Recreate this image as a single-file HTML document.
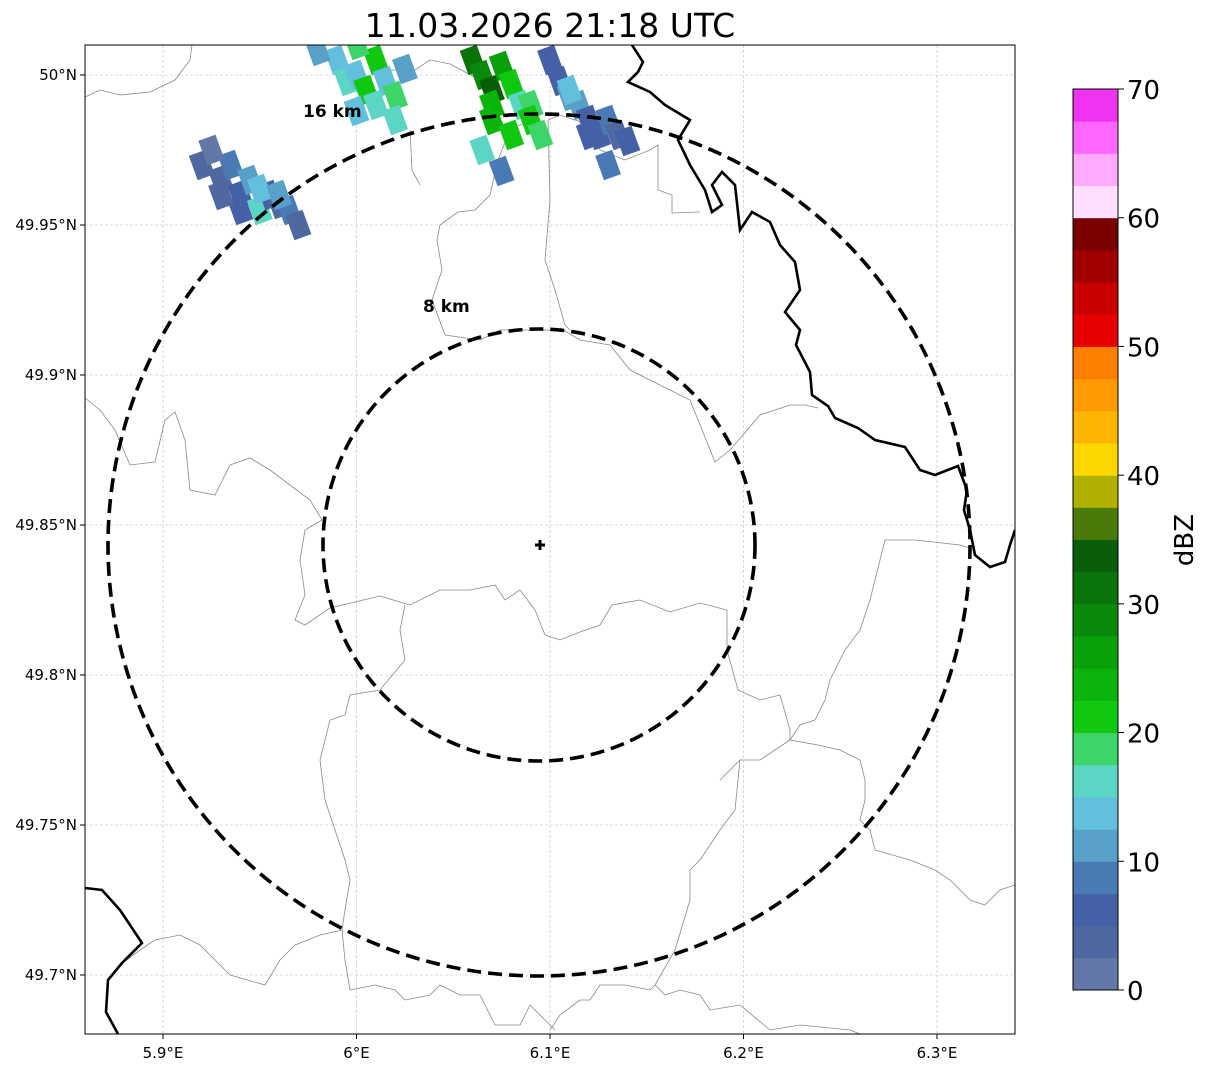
<!DOCTYPE html>
<html><head><meta charset="utf-8"><style>
html,body{margin:0;padding:0;background:#fff;width:1207px;height:1069px;overflow:hidden}
text{font-family:"DejaVu Sans","Liberation Sans",sans-serif}
</style></head><body>
<svg id="fig" width="1207" height="1069" viewBox="0 0 1207 1069" xmlns="http://www.w3.org/2000/svg">
<text x="550" y="37" font-size="33" text-anchor="middle">11.03.2026 21:18 UTC</text>
<defs><clipPath id="mapclip"><rect x="85" y="45" width="930" height="989"/></clipPath></defs>
<g id="map" clip-path="url(#mapclip)">
<g id="grid"></g>
<g fill="none" stroke="#888" stroke-width="0.8">
<path d="M85,97 L100,90 L120,95 L150,92 L175,80 L190,60 L192,45"/>
<path d="M85,398 L100,410 L115,430 L130,465 L155,462 L165,420 L175,412 L185,440 L190,490 L215,495 L230,465 L250,458 L270,470 L290,485 L310,500 L322,520 L305,530 L300,560 L305,595 L295,620 L305,625 L330,608 L380,596 L410,605 L440,590 L470,590 L495,585 L505,600 L520,590 L535,610 L545,635 L560,640 L580,632 L600,625 L612,605 L640,600 L670,612 L700,603 L727,610 L727,650 L738,690 L760,700 L780,695 L790,730 L790,740 L818,745 L840,750 L860,760 L865,780 L865,800 L860,820 L870,830 L875,850 L910,860 L935,870 L950,880 L970,900 L985,905 L1000,890 L1015,885"/>
<path d="M405,605 L400,630 L405,660 L380,690 L350,695 L345,715 L330,720 L320,760 L325,800 L335,830 L345,860 L350,880 L345,910 L342,930 L320,935 L295,945 L280,960 L265,985 L230,975 L215,960 L200,945 L180,935 L155,940 L140,950 L120,965"/>
<path d="M342,930 L345,960 L350,990 L375,985 L395,990 L405,1000 L430,995 L440,985 L450,990 L460,995 L480,995 L495,1025 L520,1025 L530,1005 L545,1020 L555,1030"/>
<path d="M720,780 L740,760 L760,760 L790,740 M740,760 L735,810 L720,830 L700,860 L690,870 L690,900 L675,950 L655,985 L650,990 L625,985 L600,985 L590,1000 L580,1000 L560,1015 L550,1030"/>
<path d="M655,985 L665,995 L680,990 L700,995 L710,1010 L740,1005 L770,1030 L800,1025 L850,1030 L860,1034"/>
<path d="M548,120 L550,200 L545,260 L555,290 L565,325 L570,330"/>
<path d="M530,120 L510,130 L498,160 L490,195 L475,210 L458,212 L440,225 L437,240 L442,270 L432,300 L445,335 L480,340 L500,330 L530,330 L550,330 M560,328 L580,340 L610,345 L630,370 L660,385 L690,400 L715,462 L730,450 L760,415 L790,405 L805,405 L818,408"/>
<path d="M410,130 L412,170 L420,185"/>
<path d="M480,80 L450,64 L430,60 L415,70 L390,70 M548,120 L560,115 L590,125 L600,150 L625,160 L650,150 L658,145 L658,190 L672,195 L672,213 L700,212"/>
<path d="M915,540 L885,540 L880,560 L870,600 L860,630 L845,650 L830,680 L825,700 L815,720 L800,725 L790,740"/>
<path d="M915,540 L960,545 L970,548"/>
</g>
<g fill="none" stroke="#000" stroke-width="2.6">
<path d="M632,45 L643,62 L638,72 L628,82 L650,92 L665,105 L690,120 L678,140 L690,165 L705,190 L712,212 L722,205 L712,185 L722,172 L735,185 L740,230 L752,212 L770,222 L780,245 L795,262 L800,290 L785,312 L800,330 L796,345 L810,372 L812,395 L828,406 L835,418 L858,428 L875,440 L905,447 L920,470 L935,475 L958,466 L967,490 L964,510 L970,530 L975,555 L990,567 L1005,562 L1010,545 L1015,530"/>
<path d="M85,888 L102,890 L120,910 L142,943 L122,963 L108,980 L106,1012 L118,1034"/>
</g>
<g id="echoes"></g>
<circle cx="539" cy="545" r="216" fill="none" stroke="#000" stroke-width="3.6" stroke-dasharray="14,7"/>
<circle cx="539" cy="545" r="431" fill="none" stroke="#000" stroke-width="3.6" stroke-dasharray="14,7"/>
<text x="423" y="312" font-size="17" font-weight="bold">8 km</text>
<text x="303" y="117" font-size="17" font-weight="bold">16 km</text>
<path d="M535,545 H545 M540,540 V550" stroke="#000" stroke-width="3"/>
</g>
<rect x="85" y="45" width="930" height="989" fill="none" stroke="#000" stroke-width="1"/>
<g id="axes"></g>
<g id="cbar"></g>
<text x="1193" y="540" font-size="26" text-anchor="middle" transform="rotate(-90 1193 540)">dBZ</text>
</svg>
<script>
const NS="http://www.w3.org/2000/svg";
const lonTicks=[5.9,6.0,6.1,6.2,6.3];
const lonLabels=["5.9°E","6°E","6.1°E","6.2°E","6.3°E"];
const latTicks=[50.0,49.95,49.9,49.85,49.8,49.75,49.7];
const latLabels=["50°N","49.95°N","49.9°N","49.85°N","49.8°N","49.75°N","49.7°N"];
const cbarColors=["#6478a8","#5068a0","#4460a6","#4a7ab4","#58a0c8","#62c0dd","#5cd6c4","#3dd46a","#10c810","#0ab40a","#0aa00a","#0a8a0a","#0a730a","#0a5e0a","#4a7a0a","#b0b000","#ffd700","#ffb400","#ff9a00","#ff7f00","#e60000","#c80000","#a00000","#7a0000","#ffdfff","#ffaaff","#ff66ff","#f033f0"];
const cbarTicks=[0,10,20,30,40,50,60,70];
const cbarStep=2.5;
// echo cells: [lon, lat, dBZ]
const echoLon=[5.92,5.925,5.93,5.935,5.94,5.945,5.95,5.955,5.96,5.965,5.97,5.94,5.93,5.925,5.95,5.96,5.99,5.995,6.0,6.005,6.01,6.015,6.02,6.025,6.0,6.01,6.02,6.06,6.065,6.07,6.075,6.08,6.085,6.09,6.07,6.08,6.09,6.095,6.065,6.075,6.1,6.105,6.11,6.115,6.12,6.125,6.13,6.135,6.11,6.12,6.13,6.14,6.07,5.98,6.0];
const echoLat=[49.97,49.975,49.965,49.97,49.96,49.965,49.955,49.96,49.957,49.955,49.95,49.955,49.96,49.975,49.962,49.96,50.005,49.998,50.0,49.995,50.005,49.998,49.993,50.002,49.988,49.99,49.985,50.005,50.0,49.995,50.003,49.997,49.99,49.99,49.985,49.98,49.985,49.98,49.975,49.968,50.005,49.998,49.993,49.99,49.985,49.98,49.985,49.98,49.995,49.98,49.97,49.978,49.99,50.008,50.01];
const echoVal=[3,5,4,8,6,12,15,7,3,8,3,5,4,2,13,10,13,15,14,22,20,13,18,12,14,16,17,30,28,33,25,22,17,19,24,22,20,18,15,8,6,5,12,10,7,5,8,4,14,7,9,6,23,12,18];
const X=lon=>163+(lon-5.9)*1935;
const Y=lat=>75+(50-lat)*3000;
const g=document.getElementById('grid'), ax=document.getElementById('axes');
lonTicks.forEach((v,i)=>{
 const l=document.createElementNS(NS,'line');
 
 
 l.setAttribute('x1',X(v));l.setAttribute('x2',X(v));l.setAttribute('y1',45);l.setAttribute('y2',1034);
 l.setAttribute('stroke','#bbb');l.setAttribute('stroke-width','0.6');l.setAttribute('stroke-dasharray','3,2');g.appendChild(l);
 const tk=document.createElementNS(NS,'line');
 
 
 tk.setAttribute('x1',X(v));tk.setAttribute('x2',X(v));tk.setAttribute('y1',1034);tk.setAttribute('y2',1039);tk.setAttribute('stroke','#000');ax.appendChild(tk);
 const t=document.createElementNS(NS,'text');
 
 
 t.setAttribute('x',X(v));t.setAttribute('y',1058);t.setAttribute('font-size','15');t.setAttribute('text-anchor','middle');t.textContent=lonLabels[i];ax.appendChild(t);
});
latTicks.forEach((v,i)=>{
 const l=document.createElementNS(NS,'line');
 
 
 l.setAttribute('x1',85);l.setAttribute('x2',1015);l.setAttribute('y1',Y(v));l.setAttribute('y2',Y(v));
 l.setAttribute('stroke','#bbb');l.setAttribute('stroke-width','0.6');l.setAttribute('stroke-dasharray','3,2');g.appendChild(l);
 const tk=document.createElementNS(NS,'line');
 
 
 tk.setAttribute('x1',80);tk.setAttribute('x2',85);tk.setAttribute('y1',Y(v));tk.setAttribute('y2',Y(v));tk.setAttribute('stroke','#000');ax.appendChild(tk);
 const t=document.createElementNS(NS,'text');
 
 
 t.setAttribute('x',77);t.setAttribute('y',Y(v)+5);t.setAttribute('font-size','15');t.setAttribute('text-anchor','end');t.textContent=latLabels[i];ax.appendChild(t);
});
const cb=document.getElementById('cbar');
const CB=v=>990-v*(901/70);
cbarColors.forEach((c,i)=>{
 const r=document.createElementNS(NS,'rect');
 
 
 const y1=CB((i+1)*cbarStep), y0=CB(i*cbarStep);
 r.setAttribute('x',1073);r.setAttribute('y',y1);r.setAttribute('width',45);r.setAttribute('height',y0-y1+0.5);r.setAttribute('fill',c);cb.appendChild(r);
});
const fr=document.createElementNS(NS,'rect');


fr.setAttribute('x',1073);fr.setAttribute('y',89);fr.setAttribute('width',45);fr.setAttribute('height',901);fr.setAttribute('fill','none');fr.setAttribute('stroke','#000');cb.appendChild(fr);
cbarTicks.forEach(v=>{
 const l=document.createElementNS(NS,'line');
 
 
 l.setAttribute('x1',1118);l.setAttribute('x2',1124);l.setAttribute('y1',CB(v));l.setAttribute('y2',CB(v));l.setAttribute('stroke','#000');cb.appendChild(l);
 const t=document.createElementNS(NS,'text');
 
 
 t.setAttribute('x',1127);t.setAttribute('y',CB(v)+10);t.setAttribute('font-size','26');t.textContent=v;cb.appendChild(t);
});
const eg=document.getElementById('echoes');
echoLon.forEach((lon,i)=>{
 const r=document.createElementNS(NS,'rect');
 
 
 const x=X(lon), y=Y(echoLat[i]);
 r.setAttribute('x',x-9);r.setAttribute('y',y-13);r.setAttribute('width',18);r.setAttribute('height',26);
 r.setAttribute('transform','rotate(-20 '+x+' '+y+')');
 r.setAttribute('fill',cbarColors[Math.min(27,Math.floor(echoVal[i]/cbarStep))]);eg.appendChild(r);
});
</script>
</body></html>
